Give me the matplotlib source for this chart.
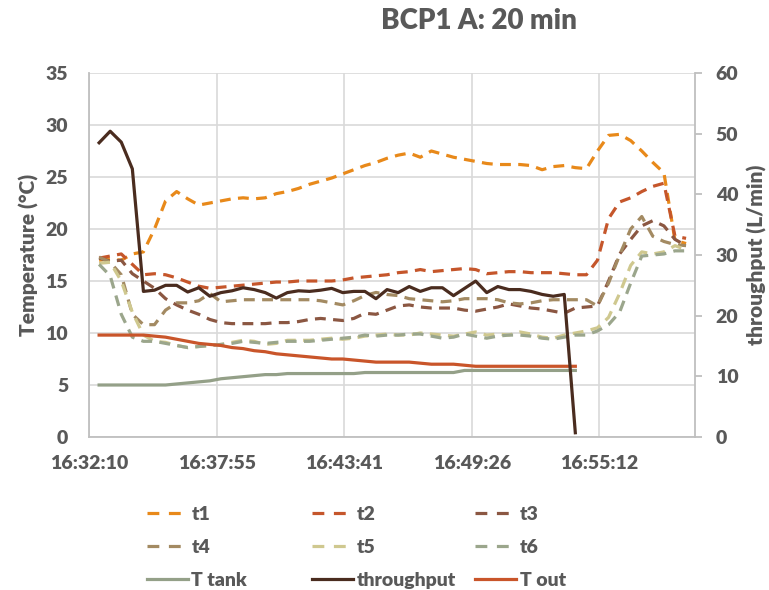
import numpy as np
import matplotlib
matplotlib.use("Agg")
import matplotlib.pyplot as plt
from matplotlib.lines import Line2D

plt.rcParams['font.family'] = ['Lato', 'DejaVu Sans']
plt.rcParams['font.weight'] = 'heavy'
plt.rcParams['axes.labelweight'] = 'heavy'

# logger samples, every 30 s from 16:32:37
start_time = "16:32:37"
step_s = 30

t1 = [17.0, 17.1, 17.0, 17.6, 17.8, 20.0, 22.7, 23.6, 22.9, 22.3,
      22.5, 22.7, 22.9, 23.0, 22.9, 23.0, 23.4, 23.6, 23.9, 24.3,
      24.6, 24.9, 25.3, 25.7, 26.1, 26.4, 26.8, 27.1, 27.3, 26.9,
      27.5, 27.2, 26.9, 26.7, 26.5, 26.3, 26.2, 26.2, 26.2, 26.1,
      25.7, 26.0, 26.1, 25.9, 25.8, 27.5, 29.0, 29.1, 28.5, 27.5,
      26.4, 25.4, 18.9, 18.6]
t2 = [17.2, 17.4, 17.6, 16.6, 15.6, 15.7, 15.6, 15.3, 14.9, 14.5,
      14.3, 14.4, 14.5, 14.6, 14.7, 14.8, 14.9, 14.9, 15.0, 15.0,
      15.0, 15.0, 15.1, 15.3, 15.4, 15.5, 15.6, 15.8, 15.9, 16.1,
      15.9, 16.0, 16.1, 16.2, 16.1, 15.7, 15.8, 15.9, 15.9, 15.8,
      15.8, 15.8, 15.7, 15.6, 15.6, 17.0, 21.0, 22.6, 23.0, 23.6,
      24.1, 24.4, 19.3, 19.1]
t3 = [17.2, 16.9, 17.0, 15.7, 15.0, 14.3, 13.3, 12.7, 12.2, 11.8,
      11.3, 11.0, 10.9, 10.9, 10.9, 10.9, 11.0, 11.0, 11.1, 11.3,
      11.4, 11.3, 11.2, 11.4, 11.9, 11.8, 12.2, 12.6, 12.7, 12.5,
      12.4, 12.4, 12.4, 12.2, 12.1, 12.3, 12.5, 12.8, 12.6, 12.4,
      12.3, 12.1, 11.9, 12.4, 12.5, 12.6, 15.0, 17.6, 19.0, 20.3,
      20.8, 20.3, 19.0, 18.4]
t4 = [17.3, 16.8, 15.6, 11.8, 10.8, 10.8, 12.2, 12.9, 12.9, 13.1,
      13.8, 13.0, 13.1, 13.2, 13.2, 13.2, 13.2, 13.2, 13.2, 13.2,
      13.1, 12.9, 12.7, 13.1, 13.6, 13.9, 13.7, 13.6, 13.3, 13.2,
      13.1, 13.0, 13.1, 13.3, 13.3, 13.3, 13.2, 12.9, 12.8, 12.9,
      13.1, 13.2, 13.2, 13.2, 13.2, 12.6, 14.8, 17.5, 20.0, 21.2,
      19.3, 18.8, 18.5, 18.4]
t5 = [16.7, 16.8, 15.0, 12.0, 9.8, 9.2, 9.1, 8.8, 8.6, 8.7,
      8.8, 8.9, 9.1, 9.3, 9.2, 8.9, 9.0, 9.3, 9.3, 9.3,
      9.4, 9.5, 9.4, 9.5, 9.7, 9.8, 9.9, 9.8, 9.8, 10.0,
      9.9, 9.8, 9.7, 9.9, 10.1, 9.8, 9.9, 9.8, 10.1, 9.9,
      9.6, 9.5, 9.8, 10.0, 10.2, 10.5, 11.5, 13.8, 16.5, 17.8,
      17.6, 17.8, 18.4, 18.0]
t6 = [16.6, 15.5, 11.8, 9.6, 9.2, 9.2, 9.0, 8.8, 8.6, 8.7,
      8.8, 8.9, 9.0, 9.2, 9.1, 9.0, 9.1, 9.2, 9.2, 9.2,
      9.3, 9.4, 9.5, 9.6, 9.8, 9.7, 9.8, 9.8, 9.9, 9.9,
      9.7, 9.5, 9.6, 9.9, 9.7, 9.5, 9.7, 9.8, 9.8, 9.7,
      9.5, 9.4, 9.6, 9.8, 9.8, 10.2, 10.8, 12.0, 14.8, 17.4,
      17.5, 17.6, 17.9, 17.9]

T_tank = [5.0, 5.0, 5.0, 5.0, 5.0, 5.0, 5.0, 5.1, 5.2, 5.3,
          5.4, 5.6, 5.7, 5.8, 5.9, 6.0, 6.0, 6.1, 6.1, 6.1,
          6.1, 6.1, 6.1, 6.1, 6.2, 6.2, 6.2, 6.2, 6.2, 6.2,
          6.2, 6.2, 6.2, 6.4, 6.4, 6.4, 6.4, 6.4, 6.4, 6.4,
          6.4, 6.4, 6.4, 6.4]
T_out = [9.8, 9.8, 9.8, 9.8, 9.8, 9.7, 9.6, 9.4, 9.2, 9.0,
         8.9, 8.8, 8.6, 8.5, 8.3, 8.2, 8.0, 7.9, 7.8, 7.7,
         7.6, 7.5, 7.5, 7.4, 7.3, 7.2, 7.2, 7.2, 7.2, 7.1,
         7.0, 7.0, 7.0, 6.9, 6.8, 6.8, 6.8, 6.8, 6.8, 6.8,
         6.8, 6.8, 6.8, 6.8]
throughput = [48.5, 50.4, 48.6, 44.2, 24.0, 24.2, 25.0, 25.0, 23.9, 24.6,
              23.2, 23.8, 24.1, 24.6, 24.3, 23.8, 22.9, 23.8, 24.1, 24.0,
              24.2, 24.5, 23.8, 24.0, 24.0, 22.8, 24.3, 23.8, 24.8, 24.0,
              24.6, 24.6, 23.3, 24.5, 25.7, 23.8, 24.8, 24.3, 24.3, 24.0,
              23.5, 23.2, 23.5, 0.7]

# x axis in fractions of a day (as in the spreadsheet)
x_axis_min, x_axis_max, x_major = 0.689, 0.708, 0.004
x_labels = ["16:32:10", "16:37:55", "16:43:41", "16:49:26", "16:55:12"]

TXT = '#595959'
GRID = '#D9D9D9'
AXC = '#BFBFBF'


def to_sec(s):
    h, m, sec = [int(v) for v in s.split(':')]
    return h * 3600 + m * 60 + sec


def main():
    t0 = to_sec(start_time)
    x_t = t0 + step_s * np.arange(len(t1))
    x_T = t0 + step_s * np.arange(len(T_tank))

    fig = plt.figure(figsize=(7.69, 5.90), dpi=100)
    ax = fig.add_axes([89 / 769, 1 - 437 / 590, 606 / 769, 364 / 590])
    ax2 = ax.twinx()

    dash = (0, (3.4, 2.3))
    lw = 2.3
    temps = [(t1, 't1', '#E8891A'), (t2, 't2', '#C5562B'), (t3, 't3', '#8B5742'),
             (t4, 't4', '#A38A62'), (t5, 't5', '#CFC88F'), (t6, 't6', '#9BA68C')]
    for y, lab, col in temps:
        ax.plot(x_t, y, color=col, lw=lw, linestyle=dash)
    ax.plot(x_T, T_tank, color='#94A088', lw=lw)
    ax.plot(x_T, T_out, color='#C9552A', lw=lw)
    ax2.plot(x_T, throughput, color='#4A2C1F', lw=lw)

    xs = x_axis_min * 86400
    xe = x_axis_max * 86400
    ax.set_xlim(xs, xe)
    ax.set_xticks(xs + x_major * 86400 * np.arange(len(x_labels)))
    ax.set_xticklabels(x_labels)
    ax.set_ylim(0, 35)
    ax.set_yticks(np.arange(0, 36, 5))
    ax2.set_ylim(0, 60)
    ax2.set_yticks(np.arange(0, 61, 10))

    ax.grid(True, color=GRID, lw=1.2)
    ax.set_axisbelow(True)
    for s in ['top', 'right']:
        ax.spines[s].set_visible(False)
    for s in ['top', 'left', 'bottom']:
        ax2.spines[s].set_visible(False)
    ax.spines['left'].set_color(AXC)
    ax.spines['bottom'].set_color(AXC)
    ax2.spines['right'].set_color(AXC)
    for sp in [ax.spines['left'], ax.spines['bottom'], ax2.spines['right']]:
        sp.set_linewidth(1.3)

    ax.tick_params(axis='both', length=0, labelsize=14, labelcolor=TXT)
    ax.tick_params(axis='y', pad=15)
    ax.tick_params(axis='x', pad=13)
    ax2.tick_params(axis='y', length=5, width=1.3, color=AXC, labelsize=14,
                    labelcolor=TXT, pad=10)

    ax.set_ylabel("Temperature (°C)", fontsize=15, color=TXT, labelpad=5)
    ax2.set_ylabel("throughput (L/min)", fontsize=15, color=TXT, labelpad=6)

    fig.text(479 / 769, 1 - 21 / 590, "BCP1 A: 20 min", fontsize=20,
             color=TXT, ha='center', va='center')

    # legend: three columns with fixed widths, like the spreadsheet
    leg_dash = (0, (3.7, 3.0))
    cols = [
        [('t1', '#E8891A', leg_dash), ('t4', '#A38A62', leg_dash), ('T tank', '#94A088', '-')],
        [('t2', '#C5562B', leg_dash), ('t5', '#CFC88F', leg_dash), ('throughput', '#4A2C1F', '-')],
        [('t3', '#8B5742', leg_dash), ('t6', '#9BA68C', leg_dash), ('T out', '#C9552A', '-')],
    ]
    col_x = [146.7, 311.7, 475]
    for cx, entries in zip(col_x, cols):
        handles = [Line2D([], [], color=c, lw=lw, linestyle=ls) for _, c, ls in entries]
        labels = [e[0] for e in entries]
        leg = fig.legend(handles, labels, loc='upper left',
                         bbox_to_anchor=(cx / 769, 1 - 506 / 590),
                         frameon=False, fontsize=14, handlelength=2.1,
                         handletextpad=0.2, labelspacing=0.82, borderpad=0,
                         borderaxespad=0)
        for txt in leg.get_texts():
            txt.set_color(TXT)

    fig.savefig('out.png', dpi=100)


if __name__ == "__main__":
    main()
